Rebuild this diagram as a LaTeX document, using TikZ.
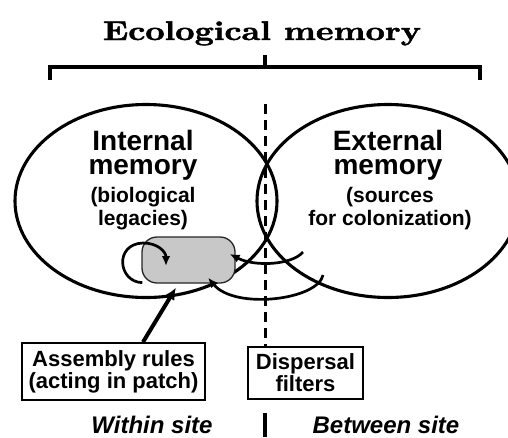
\documentclass[tikz,border=0pt]{standalone}
\usepackage{fontspec}
\usepackage{graphicx}
\usetikzlibrary{arrows.meta}
\newfontfamily\sansfam{Liberation Sans}
\newfontfamily\titlefam{lmroman10-bold.otf}[FakeBold=1.6]
\definecolor{patchgray}{RGB}{200,200,200}
\begin{document}
\begin{tikzpicture}[x=1pt,y=-1pt,
  outline/.style={line width=3.1pt},
  flow/.style={line width=2.7pt,-{Latex[length=10pt,width=8.5pt]}},
  bigflow/.style={line width=4pt,-{Latex[length=12pt,width=11pt]}},
  memhead/.style={anchor=base,inner sep=0pt,align=center,
    font=\sansfam\bfseries\fontsize{28}{23.5}\selectfont},
  memsub/.style={anchor=base,inner sep=0pt,align=center,
    font=\sansfam\bfseries\fontsize{21}{23}\selectfont},
  labelbox/.style={draw,line width=1.8pt,align=center,inner sep=0pt,
    font=\sansfam\bfseries\fontsize{22}{22}\selectfont},
  sitelabel/.style={anchor=base,inner sep=0pt,font=\sansfam\bfseries\itshape\fontsize{24}{24}\selectfont}]
\useasboundingbox (0,0) rectangle (508,437);

% title and bracket
\node[anchor=base,inner sep=0pt] (title) at (262,40)
  {\scalebox{1.24}[1]{\titlefam\fontsize{27}{27}\selectfont Ecological memory}};
\draw[outline] (50,80) -- (50,67) -- (480,67) -- (480,80);
\draw[outline] (265,67) -- (265,55);

% the two memory domains; the outer one runs past the right margin
\begin{scope}
  \clip (0,0) rectangle (508,437);
  \draw[outline] (146,201) ellipse [x radius=131, y radius=96.5];
  \draw[outline] (388,201) ellipse [x radius=131, y radius=96.5];
\end{scope}

% the base anchor of a multi-line node sits on its last line
\node[memhead] (inthead) at (143,174) {Internal\\memory};
\node[memsub] (intsub) at (143,225) {(biological\\legacies)};
\node[memhead] (exthead) at (388,174) {External\\memory};
\node[memsub] (extsub) at (390,225) {(sources\\for colonization)};

% site boundary
\coordinate (dtop) at (265,104);
\coordinate (bartop) at (265,413);
\coordinate (barbot) at (265,437);

% boxes
\node[labelbox,minimum width=183pt,minimum height=57pt] (asm) at (113.5,371.5)
  {Assembly rules\\(acting in patch)};
\node[labelbox,minimum width=115pt,minimum height=52pt] (disp) at (305.5,373)
  {Dispersal\\filters};

\draw[line width=3pt,dash pattern=on 10pt off 6pt] (dtop) -- (dtop |- disp.north);
\draw[line width=3.2pt] (bartop) -- (barbot);

% patch
\node[draw=black!85,line width=1.3pt,fill=patchgray,rounded corners=15pt,
  minimum width=93pt,minimum height=46pt,inner sep=0pt] (patch) at (188.5,260) {};

% flows into the patch
\coordinate (r1) at (303,252);
\coordinate (r2) at (323,275);
\draw[flow] ([xshift=1pt,yshift=1pt]patch.south west)
  .. controls (118,282) and (114,244) .. (143,243)
  .. controls (158,243) and (166,252) .. ([xshift=-22.5pt,yshift=-6pt]patch.center);
\draw[flow] (r1) .. controls (292,265) and (255,267) .. ([xshift=-6pt,yshift=6pt]patch.east);
\draw[flow] (r2) .. controls (318,300) and (235,310) .. ([xshift=19.5pt,yshift=6pt]patch.south);
\draw[bigflow] ([xshift=29.5pt]asm.north) -- ([xshift=-12.5pt,yshift=-4pt]patch.south);

% site labels
\node[sitelabel] (within) at (152,433) {Within site};
\node[sitelabel] (between) at (386,433) {Between site};
\end{tikzpicture}
\end{document}
